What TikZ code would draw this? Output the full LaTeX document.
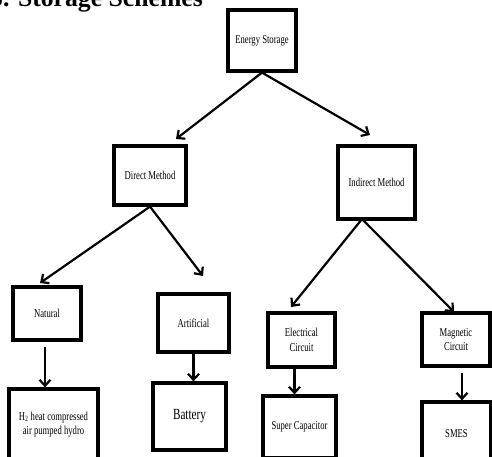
\documentclass[tikz,border=0pt]{standalone}
\usepackage{fontspec}
\setmainfont{Liberation Serif}
\newfontfamily\boxfont[FakeStretch=0.72]{Liberation Serif}
\usetikzlibrary{arrows.meta}

\begin{document}
\begin{tikzpicture}[x=1pt,y=1pt,
  box/.style={draw=black,line width=3.2pt,inner sep=0pt,align=center,font=\boxfont\fontsize{12}{14.5}\selectfont},
  arrow/.style={draw=black,line width=2.2pt,-{Straight Barb[length=6pt,width=11pt]}}]
\clip (0,0) rectangle (492,-457);
\node [anchor=base west,inner sep=0pt,font=\bfseries\fontsize{25.7}{30}\selectfont] (title) at (-10,-7) {5. Storage Schemes};
\node [box,minimum width=68pt,minimum height=61pt] (energy) at (262,-40.5) {Energy Storage};
\node [box,minimum width=72pt,minimum height=59pt] (direct) at (150,-175.5) {Direct Method};
\node [box,minimum width=77pt,minimum height=73pt] (indirect) at (376.5,-182.5) {Indirect Method};
\node [box,minimum width=68pt,minimum height=53pt] (natural) at (47,-313.5) {Natural};
\node [box,minimum width=71pt,minimum height=58pt] (artificial) at (193.5,-323) {Artificial};
\node [box,minimum width=67pt,minimum height=54pt] (electrical) at (301.5,-340) {Electrical\\Circuit};
\node [box,minimum width=68pt,minimum height=53pt] (magnetic) at (456,-339.5) {Magnetic\\Circuit};
\node [box,minimum width=89pt,minimum height=71pt] (hydro) at (53.5,-424.5) {H\textsubscript{2} heat compressed\\air pumped hydro};
\node [box,minimum width=73pt,minimum height=67pt,font=\boxfont\fontsize{15.5}{18}\selectfont] (battery) at (189.5,-416.5) {Battery};
\node [box,minimum width=73pt,minimum height=62pt] (supercap) at (299.5,-427) {Super Capacitor};
\node [box,minimum width=69pt,minimum height=64pt] (smes) at (456.5,-434) {SMES};
\coordinate (directtip) at (176,-139);
\coordinate (indirecttip) at (370,-135);
\coordinate (naturaltip) at (40,-283);
\coordinate (artificialtip) at (203,-276);
\coordinate (indirectout) at (362,-219);
\coordinate (electricaltip) at (291,-307);
\coordinate (magnetictip) at (454,-312);
\draw [arrow] (energy.south) -- (directtip);
\draw [arrow] (energy.south) -- (indirecttip);
\draw [arrow] (direct.south) -- (naturaltip);
\draw [arrow] (direct.south) -- (artificialtip);
\draw [arrow] (indirectout) -- (electricaltip);
\draw [arrow] (indirectout) -- (magnetictip);
\draw [arrow] ([xshift=-2pt,yshift=-5pt]natural.south) -- ([xshift=-8.5pt]hydro.north);
\draw [arrow] (artificial.south) -- ([xshift=4pt]battery.north);
\draw [arrow] ([xshift=-7pt]electrical.south) -- ([xshift=-5pt]supercap.north);
\draw [arrow] ([xshift=6pt,yshift=-5pt]magnetic.south) -- ([xshift=5.5pt]smes.north);
\end{tikzpicture}
\end{document}
